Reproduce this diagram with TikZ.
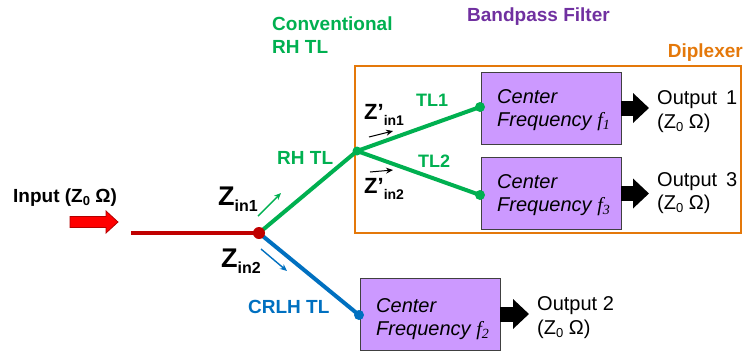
\documentclass[tikz,border=0pt]{standalone}
\usepackage{fontspec}
\setmainfont{Liberation Sans}
\newfontfamily\serf{Liberation Serif}
\usetikzlibrary{arrows.meta}
\definecolor{gr}{RGB}{0,176,80}
\definecolor{bl}{RGB}{0,112,192}
\definecolor{rd}{RGB}{192,0,0}
\definecolor{pu}{RGB}{112,48,160}
\definecolor{org}{RGB}{228,120,10}
\definecolor{bpf}{RGB}{204,153,255}
\newcommand{\fs}[1]{\fontsize{#1bp}{#1bp}\selectfont}
\newcommand{\zo}{(Z\raisebox{-3bp}{\fs{13}0}\ Ω)}
\newcommand{\fq}[1]{{\serf\itshape f}\raisebox{-3bp}{\serf\itshape\fs{14}#1}}
\begin{document}
\begin{tikzpicture}[x=1bp,y=-1bp,
  lbl/.style={inner sep=0pt,anchor=base west,font=\fs{19}\bfseries},
  outt/.style={inner sep=0pt,anchor=base west,font=\fs{20}},
  cft/.style={inner sep=0pt,anchor=base west,font=\fs{20}\itshape},
  filt/.style={draw=black!75,line width=0.8bp,fill=bpf,minimum width=140bp,minimum height=72bp,inner sep=0pt},
  dot/.style={circle,inner sep=0pt,minimum size=10bp},
  tline/.style={line width=4bp},
  blk/.style={line width=15bp,-{Triangle[length=16bp,width=29bp]},shorten >=8bp},
  small/.style={line width=1.4bp,-{Stealth[length=7bp,width=6bp]}}]
\useasboundingbox (0,0) rectangle (746,353);
% diplexer box
\node[draw=org,line width=2.5bp,minimum width=386bp,minimum height=167bp,inner sep=0pt] (dip) at (548,149.5) {};
\node[lbl,anchor=base east,text=org] (diptxt) at (743,57) {Diplexer};
\node[lbl,text=pu] (bptxt) at (467,21) {Bandpass Filter};
\node[lbl,text=gr] (conv1) at (272,30) {Conventional};
\node[lbl,text=gr] (conv2) at (272,53) {RH TL};
% filters
\node[filt] (f1) at (551,108) {};
\node[filt] (f3) at (551,193.5) {};
\node[filt] (f2) at (430,314) {};
\node[cft] (c1a) at (497,103) {Center};
\node[cft] (c1b) at (497,126) {Frequency \fq{1}};
\node[cft] (c3a) at (497,188) {Center};
\node[cft] (c3b) at (497,211) {Frequency \fq{3}};
\node[cft] (c2a) at (376,312) {Center};
\node[cft] (c2b) at (376,335) {Frequency \fq{2}};
% outputs
\node[outt] (o1) at (657,104) {Output\, 1};
\node[outt] (o1b) at (657,128) {\zo};
\node[outt] (o3) at (657,186) {Output\, 3};
\node[outt] (o3b) at (657,209) {\zo};
\node[outt] (o2) at (537,310) {Output 2};
\node[outt] (o2b) at (537,334) {\zo};
\draw[blk] (f1.east) -- (f1.east -| o1.west);
\draw[blk] (f3.east) -- (f3.east -| o3.west);
\draw[blk] (f2.east) -- (f2.east -| o2.west);
% input
\node[lbl,font=\fs{19}\bfseries] (inp) at (13,202) {Input \zo};
\filldraw[fill=red,draw=red!70!black,line width=0.8bp]
  (70,216.5) -- (106,216.5) -- (106,211) -- (118,222) -- (106,233) -- (106,227.5) -- (70,227.5) -- cycle;
% lines
\coordinate (rin) at (131,233);
\coordinate (j0) at (259,233);
\coordinate (j1) at (357,151);
\node[dot,fill=gr] (d1) at (480,107) {};
\node[dot,fill=gr] (d3) at (480,195) {};
\node[dot,fill=bl] (d2) at (359,315) {};
\draw[tline,rd] (rin) -- (j0);
\draw[tline,gr] (j0) -- (j1);
\draw[tline,gr] (j1) -- (d1.center);
\draw[tline,gr] (j1) -- (d3.center);
\draw[tline,bl] (j0) -- (d2.center);
\node[dot,fill=rd,minimum size=12bp] (j0d) at (j0) {};
\node[dot,fill=gr,minimum size=9bp] (j1d) at (j1) {};
% labels
\node[lbl,text=gr] (rh) at (277,164) {RH TL};
\node[lbl,text=bl] (crlh) at (248,313) {CRLH TL};
\node[lbl,text=gr,font=\fs{18}\bfseries] (tl1) at (416,106) {TL1};
\node[lbl,text=gr,font=\fs{18}\bfseries] (tl2) at (418,167) {TL2};
\node[lbl,font=\fs{27}\bfseries] (zin1) at (218,205) {Z\raisebox{-6bp}{\fs{16}\bfseries in1}};
\node[lbl,font=\fs{27}\bfseries] (zin2) at (221,267) {Z\raisebox{-6bp}{\fs{16}\bfseries in2}};
\node[lbl,font=\fs{22}\bfseries] (zp1) at (364,119) {Z’\raisebox{-6bp}{\fs{14}\bfseries in1}};
\node[lbl,font=\fs{22}\bfseries] (zp2) at (364,193) {Z’\raisebox{-6bp}{\fs{14}\bfseries in2}};
% small arrows
\coordinate (a1s) at (258,216); \coordinate (a1e) at (281,193);
\coordinate (a2s) at (261,249); \coordinate (a2e) at (287,271);
\coordinate (a3s) at (369,137); \coordinate (a3e) at (393,131);
\coordinate (a4s) at (370,172); \coordinate (a4e) at (393,170);
\draw[small,gr] (a1s) -- (a1e);
\draw[small,bl] (a2s) -- (a2e);
\draw[small,black,line width=1bp] (a3s) -- (a3e);
\draw[small,black,line width=1bp] (a4s) -- (a4e);
\end{tikzpicture}
\end{document}
